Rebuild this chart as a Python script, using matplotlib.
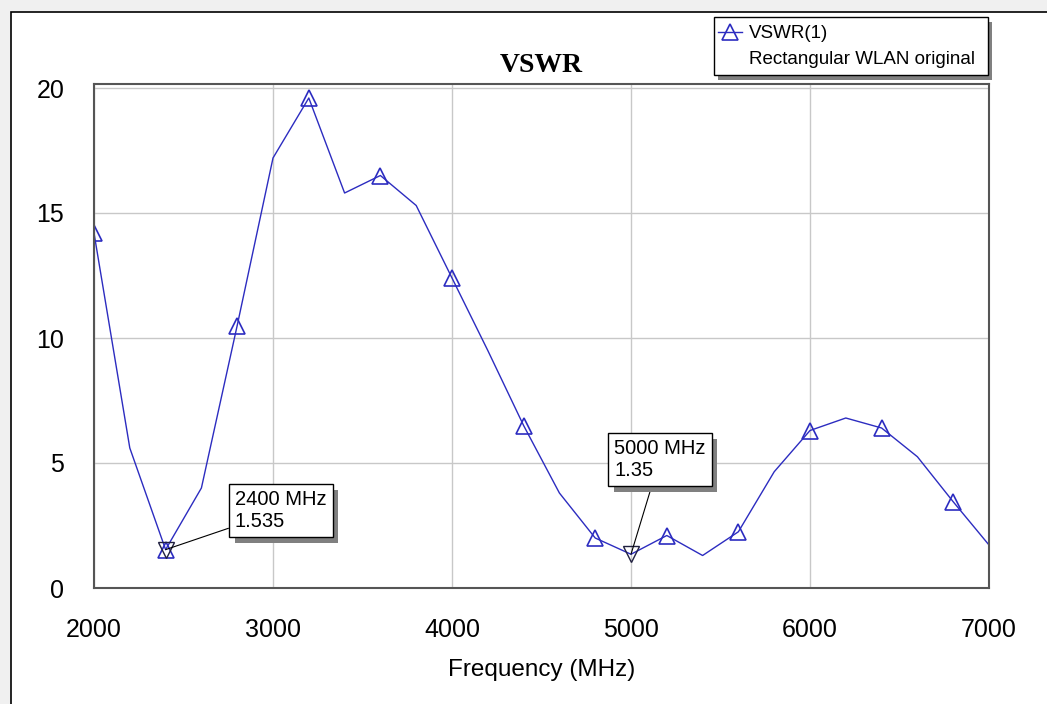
import matplotlib
matplotlib.use("Agg")
import matplotlib.pyplot as plt
from matplotlib.patches import Rectangle
from matplotlib.lines import Line2D
import matplotlib.patheffects as pe

# данные
freq = [2000, 2200, 2400, 2600, 2800, 3000, 3200, 3400, 3600, 3800,
        4000, 4200, 4400, 4600, 4800, 5000, 5200, 5400, 5600, 5800,
        6000, 6200, 6400, 6600, 6800, 7000]
vswr = [14.2, 5.6, 1.535, 4.0, 10.5, 17.2, 19.6, 15.8, 16.5, 15.3,
        12.4, 9.5, 6.5, 3.8, 2.0, 1.35, 2.1, 1.3, 2.25, 4.65,
        6.3, 6.8, 6.4, 5.25, 3.45, 1.72]

marker_freq = [2400, 5000]
marker_vals = [1.535, 1.35]
marker_text = ["2400 MHz\n1.535", "5000 MHz\n1.35"]
marker_box = [(235, 173), (614, 224)]  # левый нижний угол текста, пиксели фигуры

xticks = [2000, 3000, 4000, 5000, 6000, 7000]
yticks = [0, 5, 10, 15, 20]

plt.rcParams['font.family'] = ['Liberation Sans', 'DejaVu Sans']

line_col = '#2c2cc0'

fig = plt.figure(figsize=(10.47, 7.04), dpi=100)
fig.patch.set_facecolor('#f0f0f0')

# внешняя рамка окна
fig.patches.append(Rectangle((11 / 1047, -0.1), 1.2, 1 - 12 / 704 + 0.1,
                             transform=fig.transFigure, facecolor='white',
                             edgecolor='black', linewidth=1.2, zorder=-5))

ax = fig.add_axes([94 / 1047, 1 - 588 / 704, (989 - 94) / 1047, (588 - 84) / 704])
ax.set_xlim(2000, 7000)
ax.set_ylim(0, 20.16)
ax.set_xticks(xticks)
ax.set_yticks(yticks)
ax.tick_params(length=0, labelsize=18, pad=21.5)
ax.grid(True, color='#c8c8c8', linewidth=1.0)
ax.set_axisbelow(True)
for s in ax.spines.values():
    s.set_color('#555555')
    s.set_linewidth(1.5)

ax.plot(freq, vswr, color=line_col, linewidth=1.0, marker='^', markevery=2,
        markersize=11.5, markerfacecolor='none', markeredgecolor=line_col,
        markeredgewidth=1.2)
ax.plot(marker_freq, marker_vals, linestyle='none', marker='v', markersize=11,
        markerfacecolor='none', markeredgecolor='#202040', markeredgewidth=1.0)

for fx, fy, txt, pos in zip(marker_freq, marker_vals, marker_text, marker_box):
    t = ax.annotate(txt, xy=(fx, fy), xytext=pos, textcoords='figure pixels',
                    ha='left', va='bottom', fontsize=14.5, linespacing=1.2,
                    bbox=dict(boxstyle='square,pad=0.3', fc='white', ec='black', lw=1.0),
                    arrowprops=dict(arrowstyle='-', color='black', lw=0.8,
                                    shrinkA=0, shrinkB=0))
    t.get_bbox_patch().set_path_effects([
        pe.SimplePatchShadow(offset=(4, -4), shadow_rgbFace='#808080', alpha=1.0),
        pe.Normal()])

ax.set_title('VSWR', fontsize=20, fontweight='bold', family='Liberation Serif', pad=9)
ax.set_xlabel('Frequency (MHz)', fontsize=17.5, labelpad=12)

# легенда в виде рамки с тенью
W, H = 1047, 704
shadow = Rectangle((718 / W, 1 - 80 / H), (988 - 714) / W, (75 - 17) / H,
                   transform=fig.transFigure, facecolor='#808080', edgecolor='none', zorder=5)
box = Rectangle((714 / W, 1 - 75 / H), (988 - 714) / W, (75 - 17) / H,
                transform=fig.transFigure, facecolor='white', edgecolor='black',
                linewidth=1.0, zorder=6)
fig.patches.extend([shadow, box])
fig.lines.append(Line2D([718 / W, 742 / W], [1 - 32 / H, 1 - 32 / H], transform=fig.transFigure,
                        color=line_col, linewidth=1.0, zorder=7))
fig.lines.append(Line2D([730 / W], [1 - 32 / H], transform=fig.transFigure, marker='^',
                        markersize=11, markerfacecolor='none', markeredgecolor=line_col,
                        markeredgewidth=1.2, zorder=7))
fig.text(749 / W, 1 - 34 / H, 'VSWR(1)', fontsize=13.5, va='center', zorder=8)
fig.text(749 / W, 1 - 60 / H, 'Rectangular WLAN original', fontsize=13.5, va='center', zorder=8)

fig.savefig('out.png', dpi=100, facecolor=fig.get_facecolor())
